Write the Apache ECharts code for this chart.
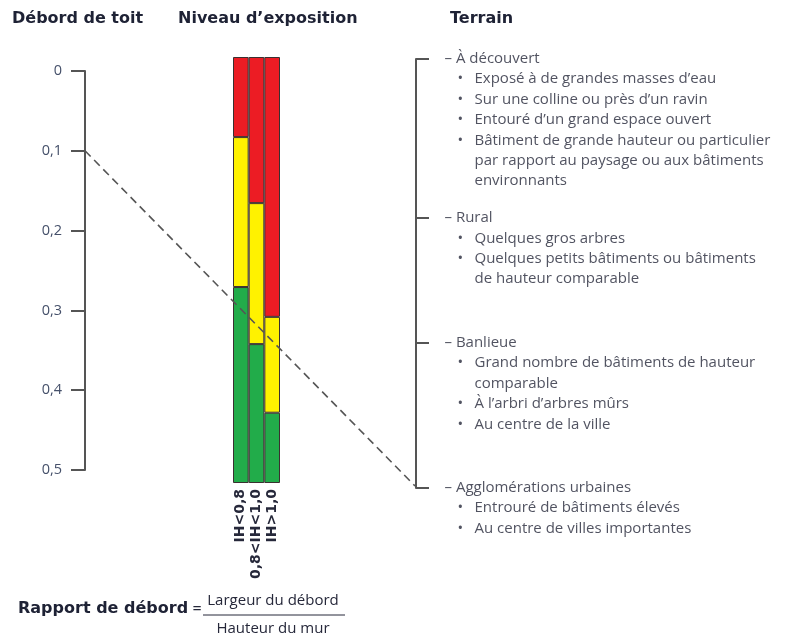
<!DOCTYPE html>
<html>
<head>
<meta charset="utf-8">
<script src="https://cdn.jsdelivr.net/npm/echarts@6/dist/echarts.min.js"></script>
<style>html,body{margin:0;padding:0;background:#fff}#c{width:785px;height:636px}</style>
</head>
<body>
<div id="c"></div>
<script>
// ---- data ----
const exposureCats = ['IH<0,8', '0,8<IH<1,0', 'IH>1,0'];
const redShare = [18.8, 34.3, 61.0];     // % of column height (top)
const yellowShare = [35.2, 33.1, 22.5];  // % (middle)
const greenShare = [46.0, 32.6, 16.5];   // % (bottom)

const overhangMin = 0;
const overhangMax = 0.5;
const overhangStep = 0.1;

const dashStart = [0, 0.1];   // [fraction across, overhang ratio]
const dashEnd = [1, 0.52];

const terrainTicks = [0, 0.371, 0.662, 1];
const terrainHeads = ['– À découvert', '– Rural', '– Banlieue', '– Agglomérations urbaines'];
const terrainItems = [
  [['Exposé à de grandes masses d’eau'], ['Sur une colline ou près d’un ravin'], ['Entouré d’un grand espace ouvert'],
   ['Bâtiment de grande hauteur ou particulier', 'par rapport au paysage ou aux bâtiments', 'environnants']],
  [['Quelques gros arbres'], ['Quelques petits bâtiments ou bâtiments', 'de hauteur comparable']],
  [['Grand nombre de bâtiments de hauteur', 'comparable'], ['À l’arbri d’arbres mûrs'], ['Au centre de la ville']],
  [['Entrouré de bâtiments élevés'], ['Au centre de villes importantes']]
];

const titles = ['Débord de toit', 'Niveau d’exposition', 'Terrain'];
const formulaLeft = 'Rapport de débord';
const formulaNum = 'Largeur du débord';
const formulaDen = 'Hauteur du mur';

// ---- styles ----
const TXT = '#26283a';
const AX = '#555555';
const FONT = 'Open Sans';
const FS = 15;
const BOLD = 'DejaVu Sans';
const TITLE = '#1e2235';

function terrainLabel(i) {
  let s = '{h|' + terrainHeads[i] + '}';
  terrainItems[i].forEach(function (it) {
    it.forEach(function (line, k) {
      s += '\n' + (k === 0 ? '{i| }{b|•}{t|' + line + '}' : '{c| }{t|' + line + '}');
    });
  });
  return s;
}

const chart = echarts.init(document.getElementById('c'), null, {renderer: 'canvas'});
const titleStyle = {fontFamily: BOLD, fontWeight: 'bold', fontSize: 16, color: TITLE};
const option = {
  animation: false,
  backgroundColor: '#fff',
  title: [
    {text: titles[0], left: 12, top: 11, padding: 0, textStyle: titleStyle},
    {text: titles[1], left: 178, top: 11, padding: 0, textStyle: titleStyle},
    {text: titles[2], left: 450, top: 11, padding: 0, textStyle: titleStyle}
  ],
  grid: [
    {left: 85, top: 71, width: 330, height: 399},
    {left: 233, top: 57, width: 47, height: 426},
    {left: 416, top: 59, width: 1, height: 429}
  ],
  xAxis: [
    {gridIndex: 0, type: 'value', min: 0, max: 1, show: false},
    {gridIndex: 1, type: 'category', data: exposureCats,
     axisLine: {show: false}, axisTick: {show: false},
     axisLabel: {interval: 0, rotate: 90, margin: 6, fontFamily: BOLD, fontWeight: 'bold', fontSize: 14, color: TXT}},
    {gridIndex: 2, type: 'value', min: 0, max: 1, show: false}
  ],
  yAxis: [
    {gridIndex: 0, type: 'value', inverse: true, min: overhangMin, max: overhangMax, interval: overhangStep,
     axisLine: {show: true, lineStyle: {color: AX, width: 2}},
     axisTick: {show: true, inside: false, length: 14, lineStyle: {color: AX, width: 2}},
     splitLine: {show: false},
     axisLabel: {margin: 23, fontFamily: FONT, fontSize: 14.5, color: '#45506a',
       formatter: function (v) { return String(+v.toFixed(1)).replace('.', ','); }}},
    {gridIndex: 1, type: 'value', inverse: true, min: 0, max: 100, show: false},
    {gridIndex: 2, type: 'value', inverse: true, min: 0, max: 1, position: 'right',
     axisLine: {show: true, lineStyle: {color: AX, width: 2}},
     axisTick: {show: true, inside: false, length: 13, customValues: terrainTicks, lineStyle: {color: AX, width: 2}},
     axisLabel: {show: false}, splitLine: {show: false}}
  ],
  series: [
    {type: 'bar', xAxisIndex: 1, yAxisIndex: 1, stack: 'e', data: redShare, barWidth: '100%', barCategoryGap: '0%',
     itemStyle: {color: '#ec1c24', borderColor: '#3a3030', borderWidth: 1}},
    {type: 'bar', xAxisIndex: 1, yAxisIndex: 1, stack: 'e', data: yellowShare, barWidth: '100%',
     itemStyle: {color: '#fff200', borderColor: '#3a3030', borderWidth: 1}},
    {type: 'bar', xAxisIndex: 1, yAxisIndex: 1, stack: 'e', data: greenShare, barWidth: '100%',
     itemStyle: {color: '#22ac4a', borderColor: '#3a3030', borderWidth: 1}},
    {type: 'line', xAxisIndex: 0, yAxisIndex: 0, data: [dashStart, dashEnd], symbol: 'none', clip: false,
     lineStyle: {color: '#555', width: 1.6, type: [8, 5]}, z: 5},
    {type: 'scatter', xAxisIndex: 2, yAxisIndex: 2, symbolSize: 1, itemStyle: {color: 'transparent'},
     data: terrainTicks.map(function (t, i) { return {value: [1, t], name: String(i)}; }),
     label: {show: true, position: [28, -10], align: 'left', verticalAlign: 'top',
       formatter: function (p) { return terrainLabel(p.dataIndex); },
       fontFamily: FONT, fontSize: FS, color: TXT, lineHeight: 20.4,
       rich: {
         h: {fontFamily: FONT, fontSize: FS, color: TXT, lineHeight: 20.4},
         i: {width: 13, lineHeight: 20.4},
         b: {width: 17, fontFamily: FONT, fontSize: 15, color: TXT, lineHeight: 20.4},
         c: {width: 30, lineHeight: 20.4},
         t: {fontFamily: FONT, fontSize: FS, color: TXT, lineHeight: 20.4}
       }}}
  ],
  graphic: [
    {type: 'text', left: 18, top: 601, style: {text: formulaLeft, fontFamily: BOLD, fontWeight: 'bold', fontSize: 16, fill: TITLE}},
    {type: 'text', x: 197, y: 609, style: {text: '=', align: 'center', verticalAlign: 'middle', fontFamily: FONT, fontSize: 16, fill: TXT}},
    {type: 'text', x: 273, y: 601, style: {text: formulaNum, align: 'center', verticalAlign: 'middle', fontFamily: FONT, fontSize: FS, fill: TXT}},
    {type: 'line', shape: {x1: 203, y1: 615, x2: 345, y2: 615}, style: {stroke: TXT, lineWidth: 1}},
    {type: 'text', x: 273, y: 629, style: {text: formulaDen, align: 'center', verticalAlign: 'middle', fontFamily: FONT, fontSize: FS, fill: TXT}}
  ]
};
chart.setOption(option);
</script>
</body>
</html>
